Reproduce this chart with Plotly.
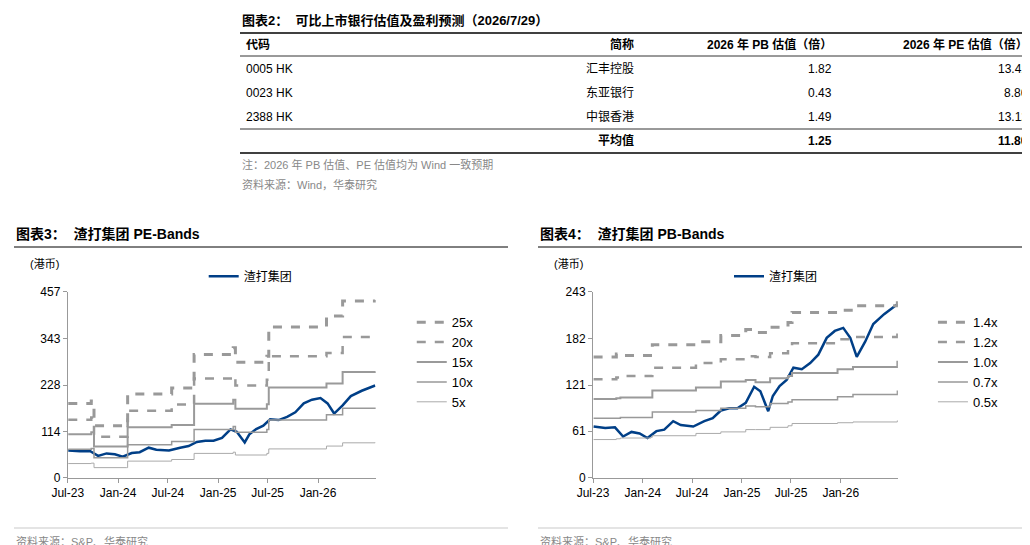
import plotly.graph_objects as go

FONT = "Liberation Sans, Noto Sans CJK SC"
GREY = "#999999"
BLUE = "#003f87"

# table data
tbl_codes = ["0005 HK", "0023 HK", "2388 HK"]
tbl_names = ["汇丰控股", "东亚银行", "中银香港"]
tbl_pb = ["1.82", "0.43", "1.49"]
tbl_pe = ["13.41", "8.86", "13.12"]
avg_pb, avg_pe = "1.25", "11.80"

# share price (HK$), shared by both charts
px_dates = ["2023-07-03", "2023-08-15", "2023-09-20", "2023-10-20", "2023-11-20", "2023-12-20",
            "2024-01-18", "2024-02-20", "2024-03-20", "2024-04-22", "2024-05-20", "2024-07-05",
            "2024-08-15", "2024-09-15", "2024-10-15", "2024-11-15", "2024-12-15", "2025-01-15",
            "2025-02-15", "2025-03-10", "2025-04-08", "2025-04-25", "2025-05-20", "2025-06-15",
            "2025-07-10", "2025-08-10", "2025-09-10", "2025-10-10", "2025-11-10", "2025-12-10",
            "2026-01-10", "2026-02-05", "2026-03-01", "2026-04-01", "2026-05-01", "2026-06-10",
            "2026-07-29"]
px_vals = [67, 65, 66, 54, 60, 58, 52, 61, 63, 74, 69, 67, 74, 78, 88, 91, 91, 98,
           119, 113, 87, 107, 120, 128, 144, 142, 150, 161, 183, 192, 196, 183, 158, 178,
           201, 214, 227]

# PE bands (step dates)
pe_dates = ["2023-07-03", "2023-09-25", "2023-10-05", "2024-01-31", "2024-02-05", "2024-07-15",
            "2024-10-05", "2025-02-25", "2025-03-05", "2025-06-28", "2025-07-05", "2026-02-01",
            "2026-04-01", "2026-07-29"]
pe_25 = [183, 189, 128, 128, 206, 221, 303, 320, 284, 299, 371, 398, 435, 437]
pe_20 = [143, 148, 101, 101, 165, 180, 244, 250, 227, 241, 299, 307, 346, 350]
pe_15 = [107, 112, 77, 77, 124, 130, 182, 192, 170, 181, 222, 232, 260, 262]
pe_10 = [70, 72, 49, 49, 81, 89, 119, 126, 112, 119, 142, 155, 171, 173]
pe_5 = [35, 36, 25, 25, 41, 45, 60, 63, 56, 60, 71, 78, 86, 87]

# PB bands
pb_dates = ["2023-07-03", "2023-09-25", "2023-10-10", "2024-01-31", "2024-02-05", "2024-07-15",
            "2024-10-15", "2025-01-15", "2025-02-20", "2025-04-15", "2025-06-20", "2025-07-05",
            "2025-12-20", "2026-02-15", "2026-07-29"]
pb_14 = [158, 162, 160, 160, 174, 178, 186, 194, 190, 197, 203, 216, 219, 225, 231]
pb_12 = [129, 131, 133, 133, 144, 150, 155, 159, 158, 163, 168, 176, 181, 184, 193]
pb_10 = [103, 104, 105, 105, 114, 118, 126, 128, 125, 130, 133, 137, 142, 145, 153]
pb_07 = [78, 78, 79, 79, 86, 88, 91, 94, 93, 97, 99, 102, 106, 109, 114]
pb_05 = [50, 51, 52, 53, 55, 58, 60, 63, 63, 66, 68, 71, 72, 73, 75]

x_ticks = ["2023-07-01", "2024-01-01", "2024-07-01", "2025-01-01", "2025-07-01", "2026-01-01"]

fig = go.Figure()

band_style = [
    ("dash", 3, "#999999"), ("dash", 2.5, "#999999"), ("solid", 2, "#9a9a9a"),
    ("solid", 1.5, "#999999"), ("solid", 1, "#aaaaaa"),
]

def add_chart(xa, ya, dates, bands, labels, leg_px, leg_b):
    fig.add_trace(go.Scatter(x=px_dates, y=px_vals, name="渣打集团", mode="lines",
                             line=dict(color=BLUE, width=2.5), xaxis=xa, yaxis=ya,
                             legend=leg_px, showlegend=True))
    for vals, lab, (dash, w, c) in zip(bands, labels, band_style):
        fig.add_trace(go.Scatter(x=dates, y=vals, name=lab, mode="lines", line_shape="hv",
                                 line=dict(color=c, width=w, dash=dash),
                                 xaxis=xa, yaxis=ya, legend=leg_b, showlegend=True))

add_chart("x", "y", pe_dates, [pe_25, pe_20, pe_15, pe_10, pe_5],
          ["25x", "20x", "15x", "10x", "5x"], "legend2", "legend3")
add_chart("x2", "y2", pb_dates, [pb_14, pb_12, pb_10, pb_07, pb_05],
          ["1.4x", "1.2x", "1.0x", "0.7x", "0.5x"], "legend4", "legend5")

xcommon = dict(type="date", range=["2023-07-01", "2026-07-31"], tickformat="%b-%y",
               tickvals=x_ticks, showline=True, linecolor=GREY, automargin=False,
               ticks="outside", tickcolor=GREY, ticklen=4, showgrid=False,
               tickfont=dict(size=12, color="#000"))
ycommon = dict(showline=True, linecolor=GREY, ticks="outside", tickcolor=GREY, ticklen=4,
               showgrid=False, zeroline=False, automargin=False,
               tickfont=dict(size=12, color="#000"))

leg_common = dict(xanchor="left", yanchor="middle", bgcolor="rgba(0,0,0,0)")
fig.update_layout(
    width=1030, height=545, margin=dict(l=0, r=0, t=0, b=0, autoexpand=False),
    paper_bgcolor="white", plot_bgcolor="white",
    font=dict(family=FONT, color="#000", size=12),
    xaxis=dict(domain=[0.058, 0.357], anchor="y", **xcommon),
    yaxis=dict(domain=[0.138, 0.479], anchor="x", range=[0, 457],
               tickvals=[0, 114, 228, 343, 457], **ycommon),
    xaxis2=dict(domain=[0.568, 0.864], anchor="y2", **xcommon),
    yaxis2=dict(domain=[0.138, 0.479], anchor="x2", range=[0, 243],
                tickvals=[0, 61, 121, 182, 243], **ycommon),
    legend2=dict(x=0.19, y=0.508, font=dict(size=12), **leg_common),
    legend3=dict(x=0.392, y=0.35, font=dict(size=13), tracegroupgap=0, **leg_common),
    legend4=dict(x=0.70, y=0.508, font=dict(size=12), **leg_common),
    legend5=dict(x=0.898, y=0.35, font=dict(size=13), **leg_common),
)

# table
shapes = []
ann = []

def txt(x, y, s, anchor="left", bold=False, color="#000", size=12):
    ann.append(dict(x=x, y=y, xref="paper", yref="paper", text=f"<b>{s}</b>" if bold else s,
                    showarrow=False, xanchor=anchor, yanchor="middle",
                    font=dict(size=size, color=color, family=FONT)))

def hline(x0, x1, y, w=1, color="#000"):
    shapes.append(dict(type="line", xref="paper", yref="paper", x0=x0, x1=x1, y0=y, y1=y,
                       line=dict(color=color, width=w)))

def py(p):
    return 1 - p / 545

tx0, tx1 = 232 / 1030, 1025 / 1030
txt(tx0, py(12), "图表2：  可比上市银行估值及盈利预测（2026/7/29）", bold=True, size=13)
hline(tx0, tx1, py(25), 1.5)
txt(236 / 1030, py(37), "代码", bold=True)
txt(628 / 1030, py(37), "简称", "right", bold=True)
txt(826 / 1030, py(37), "2026 年 PB 估值（倍）", "right", bold=True)
txt(1022 / 1030, py(37), "2026 年 PE 估值（倍）", "right", bold=True)
hline(tx0, tx1, py(48), 0.8)
for i, (c, n, b, e) in enumerate(zip(tbl_codes, tbl_names, tbl_pb, tbl_pe)):
    yy = py(61 + 24 * i)
    txt(236 / 1030, yy, c)
    txt(628 / 1030, yy, n, "right")
    txt(826 / 1030, yy, b, "right")
    txt(1022 / 1030, yy, e, "right")
hline(tx0, tx1, py(121), 0.8)
txt(628 / 1030, py(133), "平均值", "right", bold=True)
txt(826 / 1030, py(133), avg_pb, "right", bold=True)
txt(1022 / 1030, py(133), avg_pe, "right", bold=True)
hline(tx0, tx1, py(145), 1.5)
txt(tx0, py(157), "注：2026 年 PB 估值、PE 估值均为 Wind 一致预期", color="#888", size=11)
txt(tx0, py(177), "资料来源：Wind，华泰研究", color="#888", size=11)

# chart frames
for x0, x1, t in [(6, 500, "图表3：  渣打集团 PE-Bands"), (530, 1025, "图表4：  渣打集团 PB-Bands")]:
    txt(x0 / 1030, py(226), t, bold=True, size=14)
    hline(x0 / 1030, x1 / 1030, py(239), 1)
    hline(x0 / 1030, x1 / 1030, py(520), 0.8, "#bbbbbb")
    txt(x0 / 1030, py(533), "资料来源：S&P、华泰研究", color="#888", size=11)
    txt((x0 + 14) / 1030, py(256), "(港币)", size=11)

fig.update_layout(shapes=shapes, annotations=ann)
fig.write_html("out.html")
